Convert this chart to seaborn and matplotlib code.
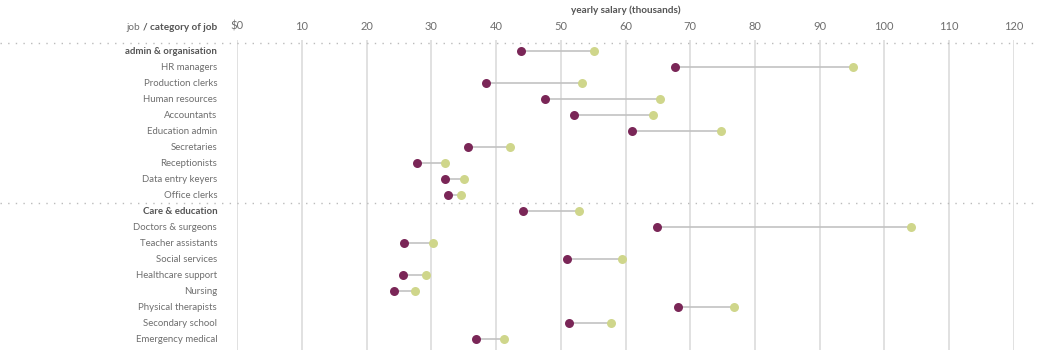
import matplotlib
matplotlib.use("Agg")
import matplotlib.pyplot as plt
import matplotlib.transforms as mtransforms
import seaborn as sns
import pandas as pd

jobs = ["admin & organisation", "HR managers", "Production clerks", "Human resources",
        "Accountants", "Education admin", "Secretaries", "Receptionists",
        "Data entry keyers", "Office clerks", "Care & education", "Doctors & surgeons",
        "Teacher assistants", "Social services", "Healthcare support", "Nursing",
        "Physical therapists", "Secondary school", "Emergency medical"]
is_category = [True, False, False, False, False, False, False, False, False, False,
               True, False, False, False, False, False, False, False, False]
salary_low = [43.8, 67.7, 38.4, 47.5, 52.0, 61.0, 35.6, 27.7, 32.1, 32.5,
              44.2, 64.9, 25.7, 50.9, 25.6, 24.2, 68.1, 51.2, 36.9]
salary_high = [55.2, 95.1, 53.3, 65.4, 64.3, 74.8, 42.2, 32.1, 35.0, 34.5,
               52.8, 104.2, 30.2, 59.5, 29.2, 27.5, 76.8, 57.7, 41.2]
x_ticks = [0, 10, 20, 30, 40, 50, 60, 70, 80, 90, 100, 110, 120]
x_tick_labels = ["$0", "10", "20", "30", "40", "50", "60", "70", "80", "90", "100", "110", "120"]

PURPLE = "#7a2657"
GREEN = "#cfd68b"
TXT = "#6e6e6e"
TXT_B = "#555555"
GRID = "#d8d8d8"

sns.set_theme(style="white")
plt.rcParams["font.family"] = ["Lato", "DejaVu Sans"]

df = pd.DataFrame({"job": jobs, "low": salary_low, "high": salary_high,
                   "row": list(range(len(jobs)))})

W, H = 1050, 350
fig = plt.figure(figsize=(10.5, 3.5), dpi=100)
x0_px, px_per = 237.3, 6.47
ax_left = x0_px / W
ax_width = 120 * px_per / W
ax = fig.add_axes([ax_left, 0, ax_width, 1 - 40 / H])
ax.set_xlim(0, 120)
ax.set_ylim(18.6875, -0.6875)

for v in x_ticks:
    ax.axvline(v, color=GRID, lw=1.1, zorder=0)

ax.hlines(df["row"], df["low"], df["high"], color="#c2c2c2", lw=1.2, zorder=1)
sns.scatterplot(data=df, x="low", y="row", color=PURPLE, s=42, linewidth=0, ax=ax, zorder=3)
sns.scatterplot(data=df, x="high", y="row", color=GREEN, s=42, linewidth=0, ax=ax, zorder=3)

trans = mtransforms.blended_transform_factory(ax.transAxes, ax.transData)
for yv in [-0.5, 9.5]:
    ax.plot([-x0_px / (120 * px_per), (1038 - x0_px) / (120 * px_per)], [yv, yv],
            transform=trans, clip_on=False, color="#bbbbbb", lw=1.0,
            linestyle=(0, (1, 4.5)), zorder=0.5)

ax.xaxis.tick_top()
ax.set_xticks(x_ticks)
ax.set_xticklabels(x_tick_labels, fontsize=8, color=TXT)
ax.tick_params(axis="x", length=0, pad=6)
ax.set_yticks(df["row"])
ax.set_yticklabels(jobs, fontsize=6.9, color=TXT)
ax.tick_params(axis="y", length=0, pad=14.5)
for lab, cat in zip(ax.get_yticklabels(), is_category):
    if cat:
        lab.set_fontweight("bold")
        lab.set_color(TXT_B)
ax.set_xlabel("")
ax.set_ylabel("")
for s in ax.spines.values():
    s.set_visible(False)

bold_part = fig.text(217 / W, 1 - 28 / H, "/ category of job", ha="right", va="center",
                     fontsize=7.2, fontweight="bold", color=TXT_B)
fig.canvas.draw()
ax.annotate("job ", xy=(0, 0), xycoords=bold_part, ha="right", va="bottom",
            fontsize=7.2, color=TXT, annotation_clip=False)
fig.text(626 / W, 1 - 10 / H, "yearly salary (thousands)", ha="center", va="center",
         fontsize=7.2, fontweight="bold", color=TXT_B)

fig.savefig("out.png", dpi=100)
